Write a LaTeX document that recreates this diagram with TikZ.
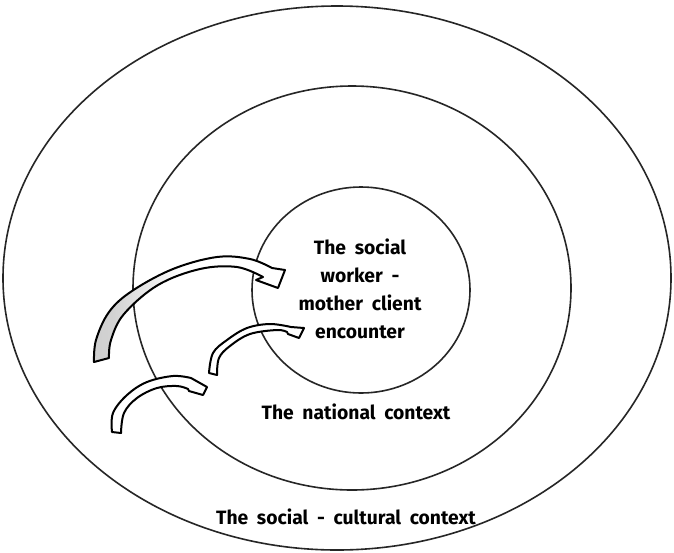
\documentclass[tikz,border=0pt]{standalone}
\usepackage{fontspec}
\setmainfont{Fira Sans}[WordSpace=1.9]
\pgfdeclarehorizontalshading{bigarrowshade}{100bp}{color(0bp)=(gray!50); color(30bp)=(gray!35); color(48bp)=(white); color(100bp)=(white)}
\begin{document}
\begin{tikzpicture}[x=1pt,y=-1pt,
  ring/.style={draw=black!85, line width=1.6pt},
  lbl/.style={font=\fontsize{19.3}{28}\selectfont\bfseries, align=center, inner sep=0pt},
  blockarrow/.style={draw=black, line width=2pt, line join=round, fill=white}]
\useasboundingbox (0,0) rectangle (674,552);
\fill[white] (0,0) rectangle (674,552);
% rings
\coordinate (outer) at (337,278);
\draw[ring] (outer) ellipse [x radius=334, y radius=272];
\coordinate (mid) at (352,288);
\draw[ring] (mid) ellipse [x radius=219, y radius=202];
\coordinate (inner) at (361,290);
\draw[ring] (inner) ellipse [x radius=109, y radius=103];
% labels
\node[lbl] (enc) at (360,289) {The social\\worker -\\mother client\\encounter};
\node[lbl] (nat) at (356,412) {The national context};
\node[lbl] (soc) at (346,517) {The social - cultural context};
% big arrow
\path[blockarrow, shading=bigarrowshade]
  plot[smooth, tension=0.6] coordinates {(94,362) (96,340) (109,312) (132,291) (173,269) (217,257) (250,259) (272,268)}
  -- (285,270) -- (278,288) -- (256,280)
  -- plot[smooth, tension=0.6] coordinates {(263,277) (237,267) (200,269) (158,285) (124,314) (111,340) (109,358)}
  -- cycle;
% middle arrow
\path[blockarrow]
  plot[smooth, tension=0.6] coordinates {(209,373) (213,353) (227,340) (247,328) (270,324) (291,327)}
  -- (304,328) -- (299,338) -- (288,334)
  -- plot[smooth, tension=0.6] coordinates {(287,332) (277,330) (250,334) (230,346) (219,358) (217,375)}
  -- cycle;
% small arrow
\path[blockarrow]
  plot[smooth, tension=0.6] coordinates {(112,432) (113,413) (127,395) (147,382) (173,376) (191,378)}
  -- (207,387) -- (203,395) -- (189,391)
  -- plot[smooth, tension=0.6] coordinates {(188,389) (177,386) (157,388) (137,398) (124,413) (121,433)}
  -- cycle;
\end{tikzpicture}
\end{document}
